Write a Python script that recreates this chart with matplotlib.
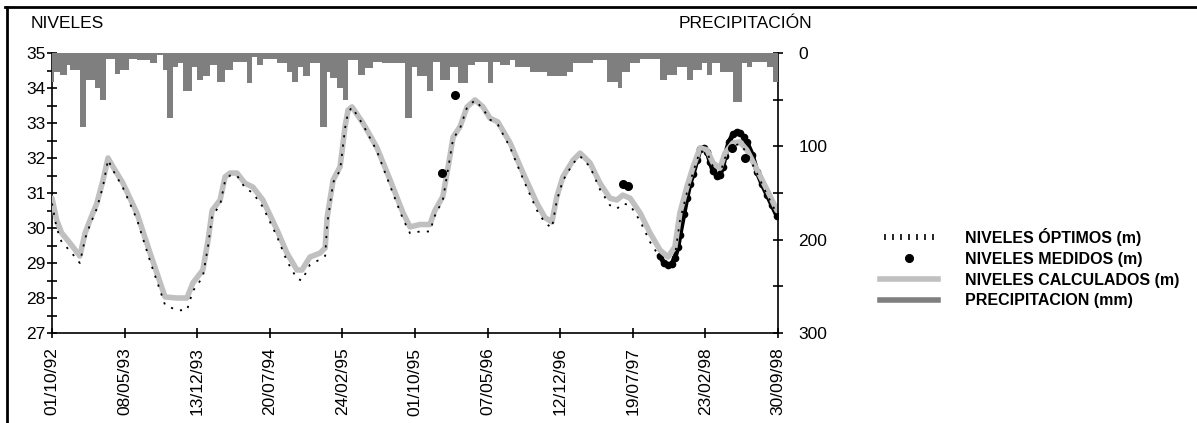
import numpy as np
import pandas as pd
import matplotlib
matplotlib.use('Agg')
import matplotlib.pyplot as plt
from matplotlib.lines import Line2D
from matplotlib.ticker import MultipleLocator
from matplotlib.legend_handler import HandlerLine2D

plt.rcParams['font.family'] = ['Liberation Sans', 'DejaVu Sans']

START = '1992-10-01'

# x values are days counted from 01/10/92
calc_day = [0, 14, 29, 54, 84, 100, 115, 135, 154, 169, 184, 214, 256, 296, 341, 377, 407, 425, 455,
            471, 483, 507, 522, 537, 558, 582, 606, 636, 679, 709, 739, 754, 778, 808, 824, 830, 848,
            869, 884, 893, 905, 938, 980, 1020, 1059, 1080, 1110, 1140, 1155, 1179, 1195, 1210, 1231,
            1252, 1276, 1300, 1321, 1345, 1382, 1421, 1463, 1487, 1508, 1523, 1541, 1572, 1593, 1623,
            1653, 1683, 1704, 1722, 1744, 1774, 1804, 1834, 1858, 1879, 1894, 1915, 1934, 1955, 1976,
            1994, 2015, 2030, 2054, 2075, 2096, 2127, 2157, 2187]
calc_level = [30.85, 30.23, 29.86, 29.57, 29.2, 29.86, 30.23, 30.7, 31.37, 32.0, 31.75, 31.28, 30.43,
              29.28, 28.03, 28.0, 28.0, 28.43, 28.8, 29.66, 30.5, 30.8, 31.46, 31.57, 31.57, 31.28,
              31.17, 30.8, 29.94, 29.28, 28.8, 28.8, 29.17, 29.28, 29.43, 30.3, 31.37, 31.75, 32.9,
              33.37, 33.46, 33.0, 32.3, 31.37, 30.43, 30.03, 30.1, 30.1, 30.5, 30.9, 31.75, 32.6, 32.9,
              33.46, 33.66, 33.46, 33.14, 33.03, 32.43, 31.57, 30.7, 30.3, 30.17, 30.9, 31.46, 31.94,
              32.14, 31.86, 31.28, 30.85, 30.8, 30.94, 30.85, 30.43, 29.86, 29.37, 29.17, 29.46, 30.43,
              31.17, 31.75, 32.29, 32.23, 31.86, 31.71, 32.14, 32.43, 32.46, 32.23, 31.66, 31.09, 30.5]
opt_level = [30.7, 30.0, 29.6, 29.35, 29.0, 29.7, 30.1, 30.55, 31.2, 31.95, 31.65, 31.15, 30.25, 29.05,
             27.8, 27.65, 27.65, 28.2, 28.6, 29.5, 30.35, 30.65, 31.35, 31.5, 31.5, 31.15, 31.0, 30.6,
             29.75, 29.05, 28.55, 28.5, 28.95, 29.1, 29.2, 30.1, 31.3, 31.65, 32.85, 33.3, 33.45,
             32.95, 32.2, 31.2, 30.25, 29.85, 29.9, 29.9, 30.35, 30.8, 31.7, 32.55, 32.85, 33.45,
             33.65, 33.4, 33.1, 32.95, 32.3, 31.4, 30.5, 30.15, 30.0, 30.8, 31.35, 31.85, 32.05,
             31.75, 31.1, 30.65, 30.55, 30.7, 30.65, 30.2, 29.6, 29.15, 28.95, 29.2, 30.2, 31.0, 31.6,
             32.2, 32.15, 31.75, 31.55, 32.0, 32.35, 32.4, 32.15, 31.55, 30.95, 30.4]

# measured levels: isolated readings and the daily series of 1998
meas_day = [1176, 1216, 1722, 1737, 2051, 2090]
meas_level = [31.57, 33.8, 31.25, 31.2, 32.29, 32.0]
meas98_day = [1834, 1846, 1858, 1870, 1879, 1888, 1894, 1906, 1915, 1924, 1934, 1946, 1955, 1967,
              1976, 1985, 1994, 2006, 2015, 2024, 2030, 2042, 2054, 2066, 2075, 2087, 2096, 2112,
              2127, 2142, 2157, 2172, 2187]
meas98_level = [29.2, 29.0, 28.95, 28.98, 29.15, 29.45, 29.8, 30.4, 30.85, 31.25, 31.55, 31.95, 32.25,
                32.28, 32.18, 31.9, 31.62, 31.5, 31.52, 31.75, 32.05, 32.45, 32.68, 32.75, 32.72, 32.6,
                32.45, 32.1, 31.6, 31.25, 30.95, 30.65, 30.35]

# precipitation (mm) between consecutive edges (days)
precip_edges = [0, 6, 24, 45, 54, 84, 103, 130, 145, 163, 190, 205, 232, 256, 296, 317, 335, 347, 365,
                380, 395, 422, 437, 455, 477, 498, 522, 546, 588, 603, 618, 636, 679, 709, 724, 742,
                757, 778, 808, 830, 839, 860, 878, 893, 923, 944, 968, 995, 1065, 1086, 1101, 1131,
                1149, 1170, 1201, 1225, 1255, 1276, 1315, 1330, 1351, 1382, 1397, 1442, 1493, 1553,
                1572, 1632, 1674, 1707, 1719, 1744, 1774, 1834, 1855, 1885, 1915, 1934, 1961, 1976,
                1991, 2015, 2054, 2081, 2096, 2112, 2157, 2175, 2190]
precip_mm = [31, 20, 24, 13, 18, 79, 29, 38, 50, 6, 22, 18, 6, 8, 11, 2, 18, 70, 15, 11, 41, 15, 29,
             25, 13, 31, 18, 10, 32, 4, 13, 6, 11, 20, 31, 15, 25, 11, 79, 20, 27, 38, 50, 8, 24, 16,
             10, 11, 70, 15, 25, 41, 10, 29, 15, 32, 13, 10, 32, 10, 13, 8, 15, 20, 25, 20, 11, 8, 31,
             38, 20, 11, 6, 29, 24, 15, 29, 18, 11, 24, 11, 20, 52, 11, 15, 10, 15, 31]

tick_labels = ['01/10/92', '08/05/93', '13/12/93', '20/07/94', '24/02/95', '01/10/95',
               '07/05/96', '12/12/96', '19/07/97', '23/02/98', '30/09/98']
tick_pos = (pd.to_datetime(tick_labels, format='%d/%m/%y') - pd.Timestamp(START)).days

fig = plt.figure(figsize=(11.97, 4.23), dpi=100)
ax = fig.add_axes([52 / 1197, 1 - 333 / 423, 726 / 1197, 280 / 423])
ax2 = ax.twinx()

# levels
ax.plot(meas98_day, meas98_level, color='black', lw=3.6, marker='o', ms=4.5, zorder=2)
ax.plot(calc_day, calc_level, color='#c0c0c0', lw=4, solid_capstyle='round', zorder=3)
ax.plot(calc_day, opt_level, color='black', lw=1.3, ls=(0, (1.2, 4)), zorder=4)
ax.plot(meas_day, meas_level, 'o', color='black', ms=5.5, zorder=5)

ax.set_xlim(0, 2190)
ax.set_ylim(27, 35)
ax.yaxis.set_major_locator(MultipleLocator(1))
ax.yaxis.set_minor_locator(MultipleLocator(0.5))
ax.set_xticks(tick_pos)
ax.set_xticklabels(tick_labels, rotation=90, va='top')
ax.tick_params(axis='both', which='major', direction='inout', length=7, width=1.2, labelsize=12.5)
ax.tick_params(axis='y', which='minor', direction='inout', length=7, width=1.2)
ax.tick_params(axis='y', pad=1)
ax.tick_params(axis='x', pad=7)
for s in ['top', 'right']:
    ax.spines[s].set_visible(False)
for s in ['left', 'bottom']:
    ax.spines[s].set_linewidth(1.2)

# precipitation hanging from the top
widths = np.diff(precip_edges)
ax2.bar(precip_edges[:-1], precip_mm, width=widths, align='edge', color='#7f7f7f',
        linewidth=0, zorder=3)
ax2.set_ylim(300, 0)
ax2.set_xlim(0, 2190)
ax2.yaxis.set_major_locator(MultipleLocator(100))
ax2.yaxis.set_minor_locator(MultipleLocator(50))
ax2.tick_params(axis='y', which='both', direction='inout', length=7, width=1.2, labelsize=12.5, pad=11)
for s in ['top', 'left', 'bottom']:
    ax2.spines[s].set_visible(False)
ax2.spines['right'].set_linewidth(1.2)
ax2.spines['right'].set_zorder(1)

fig.text(31 / 1197, 1 - 23 / 423, 'NIVELES', fontsize=12.5, va='center', ha='left')
fig.text(812 / 1197, 1 - 23 / 423, 'PRECIPITACIÓN', fontsize=12.5, va='center', ha='right')

# legend
h_opt = Line2D([], [], color='black', marker='|', ls='none', ms=4, mew=1.2)
h_meas = Line2D([], [], color='black', marker='o', ls='none', ms=5.5)
h_calc = Line2D([], [], color='#c0c0c0', lw=4)
h_prec = Line2D([], [], color='#7f7f7f', lw=4)
fig.legend([h_opt, h_meas, h_calc, h_prec],
           ['NIVELES ÓPTIMOS (m)', 'NIVELES MEDIDOS (m)', 'NIVELES CALCULADOS (m)', 'PRECIPITACION (mm)'],
           loc='upper left', bbox_to_anchor=(880 / 1197, 1 - 228 / 423), frameon=False,
           prop={'weight': 'bold', 'size': 11.5}, handlelength=3.6, handletextpad=1.7,
           labelspacing=0.36, borderpad=0, borderaxespad=0,
           handler_map={h_opt: HandlerLine2D(numpoints=7), h_meas: HandlerLine2D(numpoints=1)})

# outer frame (top and left only)
fig.add_artist(Line2D([5 / 1197, 1], [1 - 7 / 423, 1 - 7 / 423], color='black', lw=2))
fig.add_artist(Line2D([7 / 1197, 7 / 1197], [0, 1 - 7 / 423], color='black', lw=2))

fig.savefig('out.png', dpi=100, facecolor='white')
